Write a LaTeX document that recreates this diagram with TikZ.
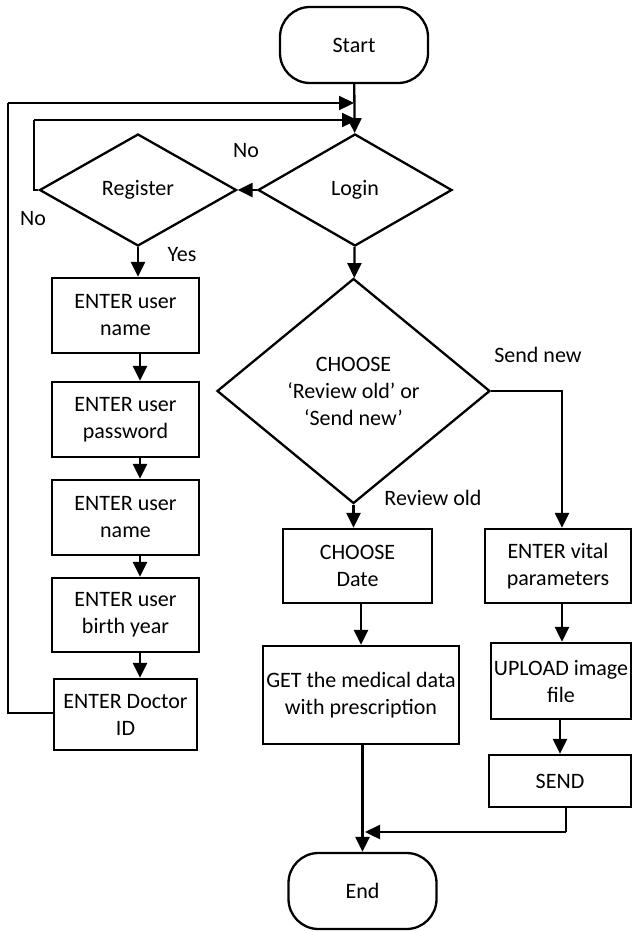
\documentclass[tikz,border=0pt]{standalone}
\usepackage{fontspec}
\setmainfont{Carlito}
\usetikzlibrary{shapes.geometric,arrows.meta}
\begin{document}
\begin{tikzpicture}[x=1pt,y=-1pt,
  every node/.style={font=\fontsize{22}{27}\selectfont},
  base/.style={draw,line width=2.3pt,align=center,inner sep=0pt},
  box/.style={base,rectangle},
  term/.style={base,rectangle,rounded corners=30pt,minimum width=148pt,minimum height=76pt},
  dia/.style={base,diamond},
  lbl/.style={inner sep=0pt},
  line/.style={line width=2.3pt},
  arr/.style={line width=2.3pt,-{Triangle[length=15pt,width=14pt]}}
]
\useasboundingbox (0,0) rectangle (632,932);
% terminals
\node[term] (start) at (354,45) {Start};
\node[term] (end) at (362.5,891) {End};
% decisions
\node[dia,minimum width=194pt,minimum height=112pt] (login) at (355,190) {Login};
\node[dia,minimum width=197pt,minimum height=112pt] (reg) at (138,190) {Register};
\node[dia,minimum width=273pt,minimum height=225pt] (choose) at (353.5,391) {CHOOSE\\‘Review old’ or\\‘Send new’};
% left column
\node[box,minimum width=147pt,minimum height=75pt] (b1) at (125.5,315.5) {ENTER user\\name};
\node[box,minimum width=147pt,minimum height=75pt] (b2) at (125.5,419.5) {ENTER user\\password};
\node[box,minimum width=147pt,minimum height=75pt] (b3) at (125.5,517.5) {ENTER user\\name};
\node[box,minimum width=147pt,minimum height=74pt] (b4) at (125.5,615) {ENTER user\\birth year};
\node[box,minimum width=143pt,minimum height=71pt] (b5) at (125.5,714.5) {ENTER Doctor\\ID};
% middle column
\node[box,minimum width=149pt,minimum height=74pt] (date) at (357.5,566) {CHOOSE\\Date};
\node[box,minimum width=196pt,minimum height=98pt] (get) at (361,695) {GET the medical data\\with prescription};
% right column
\node[box,minimum width=146pt,minimum height=74pt] (vital) at (558,566) {ENTER vital\\parameters};
\node[box,minimum width=140pt,minimum height=76pt] (upload) at (561,681) {UPLOAD image\\file};
\node[box,minimum width=142pt,minimum height=52pt] (send) at (560,781) {SEND};
% labels
\node[lbl] (lno1) at (246,151) {No};
\node[lbl] (lno2) at (33,219) {No};
\node[lbl] (lyes) at (182,255) {Yes};
\node[lbl] (lsend) at (538,355) {Send new};
\node[lbl] (lrev) at (433,498) {Review old};
% helper coordinates
\coordinate (c1) at (34,120);
\coordinate (c1e) at (357,120);
\coordinate (c2) at (8,103);
\coordinate (c2e) at (354,103);
\coordinate (c3) at (8,713);
\coordinate (c4) at (562,0);
\coordinate (c5) at (566,832);
\coordinate (c6) at (365,832);
\coordinate (colx) at (140,0);
% connectors
\draw[arr] (start) -- (login);
\draw[arr] (login.west) -- (reg.east);
\draw[line] (reg.west) -| (c1);
\draw[arr] (c1) -- (c1e);
\draw[line] (b5.west |- c3) -- (c3) -- (c2);
\draw[arr] (c2) -- (c2e);
\draw[arr] (reg.south) -- (b1.north -| reg.south);
\draw[arr] (b1.south -| colx) -- (b2.north -| colx);
\draw[arr] (b2.south -| colx) -- (b3.north -| colx);
\draw[arr] (b3.south -| colx) -- (b4.north -| colx);
\draw[arr] (b4.south -| colx) -- (b5.north -| colx);
\draw[arr] (login) -- (choose);
\draw[arr] (choose.south) -- (date.north -| choose.south);
\draw[arr] (choose.east) -| (vital.north -| c4);
\draw[arr] (date.south -| get) -- (get.north);
\draw[arr] (get.south -| end) -- (end.north);
\draw[arr] (vital.south -| c4) -- (upload.north -| c4);
\draw[arr] (upload.south -| send) -- (send.north);
\draw[line] (send.south -| c5) -- (c5);
\draw[arr] (c5) -- (c6);
\end{tikzpicture}
\end{document}
